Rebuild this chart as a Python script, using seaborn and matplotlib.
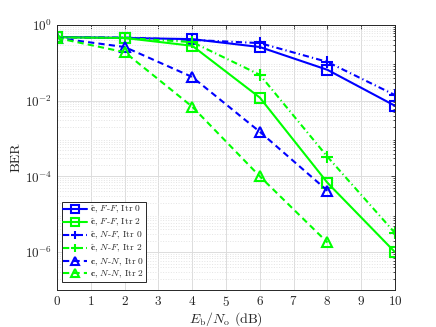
import numpy as np
import pandas as pd
import matplotlib
matplotlib.use("Agg")
import matplotlib.pyplot as plt
import seaborn as sns

# Eb/No points (dB)
snr = [0, 2, 4, 6, 8, 10]
snr_nn = [0, 2, 4, 6, 8]

# BER values
ber_ff_itr0 = [0.48, 0.45, 0.42, 0.26, 0.065, 0.0073]
ber_ff_itr2 = [0.47, 0.45, 0.28, 0.012, 6.8e-5, 1.0e-6]
ber_nf_itr0 = [0.47, 0.46, 0.40, 0.33, 0.105, 0.014]
ber_nf_itr2 = [0.47, 0.45, 0.35, 0.048, 3.3e-4, 3.2e-6]
ber_nn_itr0 = [0.45, 0.26, 0.042, 1.5e-3, 4.2e-5]
ber_nn_itr2 = [0.45, 0.19, 6.9e-3, 1.0e-4, 1.8e-6]

labels = [
    r"$\hat{\mathbf{c}}$, $F$-$F$, Itr 0",
    r"$\hat{\mathbf{c}}$, $F$-$F$, Itr 2",
    r"$\hat{\mathbf{c}}$, $N$-$F$, Itr 0",
    r"$\hat{\mathbf{c}}$, $N$-$F$, Itr 2",
    r"$\mathbf{c}$, $N$-$N$, Itr 0",
    r"$\mathbf{c}$, $N$-$N$, Itr 2",
]

sns.set_style("white")
plt.rcParams["font.family"] = ["serif"]
plt.rcParams["font.serif"] = ["cmr10", "DejaVu Serif"]
plt.rcParams["mathtext.fontset"] = "cm"
plt.rcParams["axes.formatter.use_mathtext"] = True

fig = plt.figure(figsize=(4.36, 3.27), dpi=100)
ax = fig.add_axes([0.131, 0.113, 0.775, 0.811])

dashed = (3.0, 2.0)
dashdot = (3.0, 1.5, 0.6, 1.5)
series = [
    (snr, ber_ff_itr0, "#0000ff", None, "s"),
    (snr, ber_ff_itr2, "#00ff00", None, "s"),
    (snr, ber_nf_itr0, "#0000ff", dashdot, "+"),
    (snr, ber_nf_itr2, "#00ff00", dashdot, "+"),
    (snr_nn, ber_nn_itr0, "#0000ff", dashed, "^"),
    (snr_nn, ber_nn_itr2, "#00ff00", dashed, "^"),
]

for (x, y, c, dash, mk), lab in zip(series, labels):
    df = pd.DataFrame({"snr": x, "ber": y})
    line_ax = sns.lineplot(data=df, x="snr", y="ber", ax=ax, color=c,
                           linewidth=1.5, marker=mk, markersize=8 if mk == "+" else 7,
                           markerfacecolor="none", markeredgecolor=c,
                           markeredgewidth=1.5, label=lab)
    if dash is not None:
        line_ax.lines[-1].set_dashes(dash)

ax.set_yscale("log")
ax.set_xlim(0, 10)
ax.set_ylim(1e-7, 1)
ax.set_xticks(range(0, 11))
ax.set_xticklabels([f"${v}$" for v in range(0, 11)])
ax.set_yticks([1e0, 1e-2, 1e-4, 1e-6])
ax.yaxis.set_minor_locator(matplotlib.ticker.LogLocator(base=10, subs=np.arange(2, 10), numticks=20))
ax.yaxis.set_minor_formatter(matplotlib.ticker.NullFormatter())

ax.grid(True, which="major", color="#dcdcdc", linewidth=0.7)
ax.grid(True, which="minor", axis="y", color="#e4e4e4", linestyle=":", linewidth=0.7)
ax.set_axisbelow(True)
for s in ax.spines.values():
    s.set_color("#262626")
    s.set_linewidth(0.7)
ax.tick_params(which="both", direction="in", top=True, right=True, labelsize=9.5,
               length=3, width=0.6, color="#262626")
ax.tick_params(which="minor", length=1.5)

ax.set_xlabel(r"$E_\mathrm{b}/N_\mathrm{o}$ (dB)", fontsize=10, labelpad=1)
ax.set_ylabel("BER", fontsize=10, labelpad=2)

leg = ax.legend(loc="lower left", bbox_to_anchor=(0.013, 0.03), fontsize=6.8,
                handlelength=2.5, handletextpad=0.3, borderpad=0.2,
                labelspacing=0.1, borderaxespad=0.0, fancybox=False, framealpha=1)
leg.get_frame().set_edgecolor("#262626")
leg.get_frame().set_linewidth(0.7)
for h in leg.legend_handles:
    h.set_markersize(5.5)

fig.savefig("out.png", dpi=100)
